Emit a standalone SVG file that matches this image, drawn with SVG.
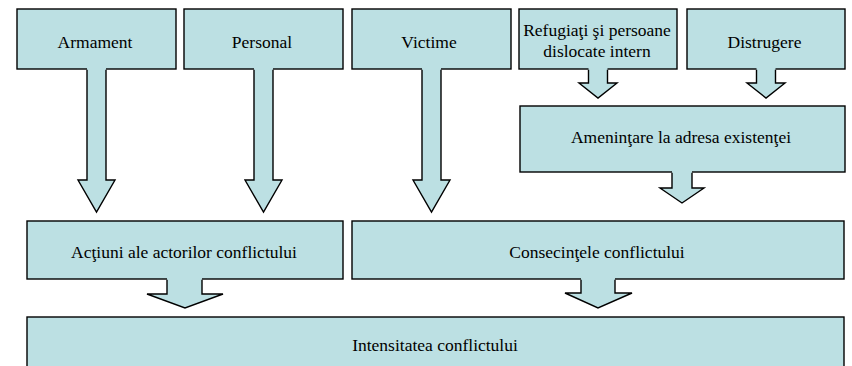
<svg xmlns="http://www.w3.org/2000/svg" width="852" height="366" viewBox="0 0 852 366">
<defs>
<style>
.box{fill:#BCE0E3;stroke:#000;stroke-width:1.4}
.af{fill:#BCE0E3;stroke:none}
.as{fill:none;stroke:#000;stroke-width:1.4;stroke-linejoin:miter}
.t{font-family:'Liberation Serif','Times New Roman',serif;font-size:17.5px;text-anchor:middle;fill:#000}
</style>
</defs>
<rect width="852" height="366" fill="#fff"/>
<g id="armament"><rect class="box" x="17" y="9" width="159" height="60"/><text class="t" x="95" y="48">Armament</text></g>
<g id="personal"><rect class="box" x="184" y="9" width="159" height="60"/><text class="t" x="262" y="48">Personal</text></g>
<g id="victime"><rect class="box" x="352" y="9" width="159" height="60"/><text class="t" x="429" y="48">Victime</text></g>
<g id="refugiati"><rect class="box" x="519" y="9" width="158" height="60"/><text class="t" x="597" y="36">Refugiaţi şi persoane</text><text class="t" x="597" y="57">dislocate intern</text></g>
<g id="distrugere"><rect class="box" x="687" y="9" width="158" height="60"/><text class="t" x="764.5" y="48">Distrugere</text></g>
<g id="amenintare"><rect class="box" x="520" y="106" width="325" height="66"/><text class="t" x="681" y="143">Ameninţare la adresa existenţei</text></g>
<g id="actiuni"><rect class="box" x="27" y="221" width="316" height="58"/><text class="t" x="184" y="258">Acţiuni ale actorilor conflictului</text></g>
<g id="consecintele"><rect class="box" x="352" y="221" width="492" height="58"/><text class="t" x="597" y="258">Consecinţele conflictului</text></g>
<g id="intensitatea"><rect class="box" x="27" y="317" width="817" height="70"/><text class="t" x="435" y="351">Intensitatea conflictului</text></g>
<g id="connectors">
<polygon class="af" points="87,68 106,68 106,180 115,180 96.5,212 78,180 87,180"/>
<polyline class="as" points="87,69.7 87,180 78,180 96.5,212 115,180 106,180 106,69.7"/>
<polygon class="af" points="254,68 273,68 273,180 282,180 263.5,212 245,180 254,180"/>
<polyline class="as" points="254,69.7 254,180 245,180 263.5,212 282,180 273,180 273,69.7"/>
<polygon class="af" points="422,68 441,68 441,180 450,180 431.5,212 413,180 422,180"/>
<polyline class="as" points="422,69.7 422,180 413,180 431.5,212 450,180 441,180 441,69.7"/>
<polygon class="af" points="588.5,68 607.5,68 607.5,83 617,83 598,98 579,83 588.5,83"/>
<polyline class="as" points="588.5,69.7 588.5,83 579,83 598,98 617,83 607.5,83 607.5,69.7"/>
<polygon class="af" points="756.5,68 775.5,68 775.5,83 785,83 766,98 747,83 756.5,83"/>
<polyline class="as" points="756.5,69.7 756.5,83 747,83 766,98 785,83 775.5,83 775.5,69.7"/>
<polygon class="af" points="672,171 692,171 692,188 704,188 682,203 660,188 672,188"/>
<polyline class="as" points="672,172.7 672,188 660,188 682,203 704,188 692,188 692,172.7"/>
<polygon class="af" points="167,278 202,278 202,294 223,294 185,308 147,294 167,294"/>
<polyline class="as" points="167,279.7 167,294 147,294 185,308 223,294 202,294 202,279.7"/>
<polygon class="af" points="581,278 615,278 615,293 632,293 598,308 565,293 581,293"/>
<polyline class="as" points="581,279.7 581,293 565,293 598,308 632,293 615,293 615,279.7"/>
</g>
</svg>
